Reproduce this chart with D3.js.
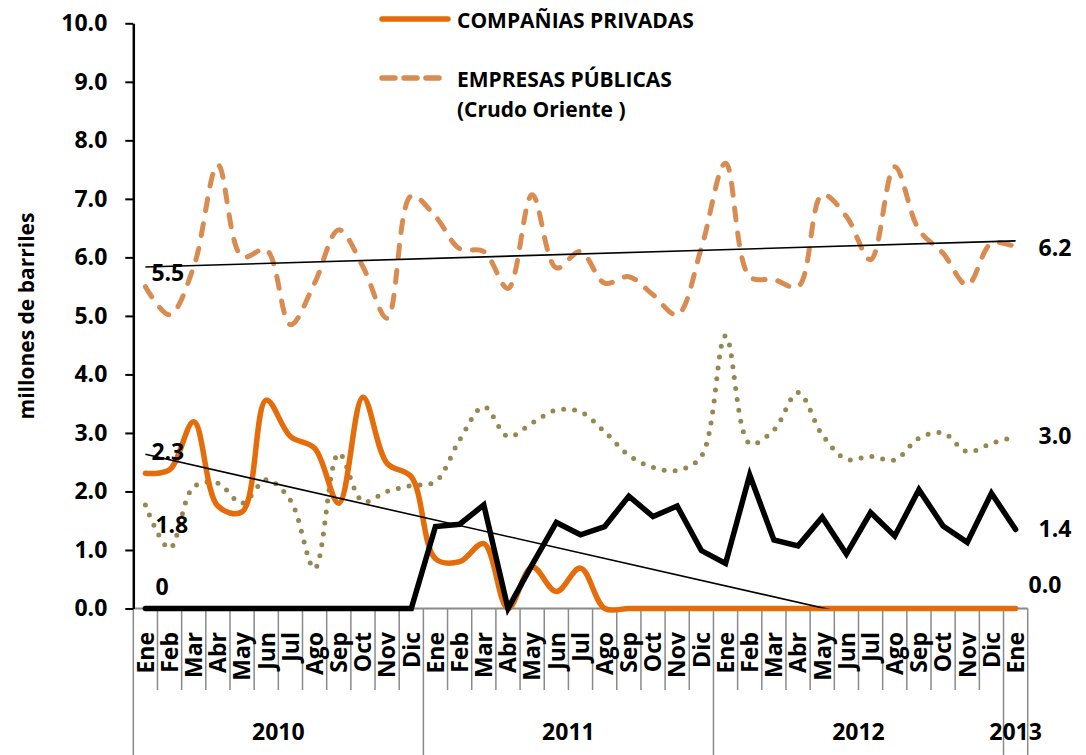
<!DOCTYPE html>
<html>
<head>
<meta charset="utf-8">
<script src="https://cdn.jsdelivr.net/npm/d3@7"></script>
<style>
  body { margin: 0; background: #fff; }
  text { font-family: "Open Sans", sans-serif; font-weight: bold; fill: #000; }
</style>
</head>
<body>
<div id="chart"></div>
<script>
// months Ene 2010 .. Ene 2013
const meses = ["Ene","Feb","Mar","Abr","May","Jun","Jul","Ago","Sep","Oct","Nov","Dic",
  "Ene","Feb","Mar","Abr","May","Jun","Jul","Ago","Sep","Oct","Nov","Dic",
  "Ene","Feb","Mar","Abr","May","Jun","Jul","Ago","Sep","Oct","Nov","Dic",
  "Ene"];
const anios = ["2010", "2011", "2012", "2013"];
const mesesPorAnio = [12, 12, 12, 1];

const privadas = [2.31,2.37,3.19,1.75,1.65,3.56,2.94,2.74,1.80,3.61,2.48,2.25,
  0.85,0.80,1.11,0,0.71,0.29,0.69,0,0,0,0,0,
  0,0,0,0,0,0,0,0,0,0,0,0,
  0];
const publicas = [5.50,5.02,5.84,7.58,6.01,6.13,4.85,5.56,6.47,5.84,4.96,7.05,
  6.70,6.15,6.10,5.47,7.07,5.82,6.10,5.56,5.67,5.36,5.02,6.16,
  7.61,5.67,5.62,5.50,7.07,6.70,5.96,7.55,6.47,6.07,5.53,6.24,
  6.18];
const punteada = [1.77,1.03,2.08,2.14,1.80,2.20,1.85,0.68,2.65,1.83,2.00,2.10,
  2.17,2.88,3.45,2.94,3.17,3.39,3.36,3.02,2.62,2.41,2.36,2.60,
  4.66,2.82,3.05,3.69,2.97,2.55,2.60,2.54,2.91,3.00,2.68,2.82,
  2.94];
const negra = [0,0,0,0,0,0,0,0,0,0,0,0,
  1.40,1.44,1.77,0,0.75,1.47,1.26,1.40,1.92,1.57,1.75,0.99,
  0.77,2.28,1.17,1.07,1.56,0.93,1.64,1.24,2.03,1.41,1.13,1.97,
  1.35];
const yTicks = [0,1,2,3,4,5,6,7,8,9,10];

const width = 1086, height = 755;
const plot = { left: 133.3, right: 1027.7, top: 23.3, bottom: 608.5 };

const svg = d3.select("#chart").append("svg")
  .attr("width", width).attr("height", height);

const x = d3.scaleBand().domain(d3.range(meses.length)).range([plot.left, plot.right]);
const xc = i => x(i) + x.bandwidth() / 2;
const y = d3.scaleLinear().domain([0, 10]).range([plot.bottom, plot.top]);

// category axis: gray line, month ticks, year separators
svg.append("line")
  .attr("x1", plot.left).attr("x2", plot.right).attr("y1", plot.bottom).attr("y2", plot.bottom)
  .attr("stroke", "#8a8a8a").attr("stroke-width", 2);

const yearStarts = [0];
mesesPorAnio.forEach((n, k) => yearStarts.push(yearStarts[k] + n));

svg.append("g").selectAll("line")
  .data(d3.range(meses.length + 1))
  .join("line")
  .attr("x1", i => i < meses.length ? x(i) : plot.right)
  .attr("x2", i => i < meses.length ? x(i) : plot.right)
  .attr("y1", plot.bottom)
  .attr("y2", i => yearStarts.includes(i) ? height : 690)
  .attr("stroke", "#8a8a8a").attr("stroke-width", 1.5);

svg.append("g").selectAll("text")
  .data(meses)
  .join("text")
  .attr("transform", (d, i) => "translate(" + xc(i) + ",632) rotate(-90)")
  .attr("dy", "0.36em")
  .attr("text-anchor", "end")
  .attr("font-size", 23)
  .text(d => d);

svg.append("g").selectAll("text")
  .data(anios)
  .join("text")
  .attr("x", (d, k) => {
    const a = x(yearStarts[k]);
    const b = yearStarts[k + 1] < meses.length ? x(yearStarts[k + 1]) : plot.right;
    return (a + b) / 2;
  })
  .attr("y", 740)
  .attr("text-anchor", "middle")
  .attr("font-size", 23)
  .text(d => d);

// value axis
const yAxis = d3.axisLeft(y)
  .tickValues(yTicks)
  .tickFormat(d3.format(".1f"))
  .tickSize(8)
  .tickSizeOuter(0)
  .tickPadding(18);

const gy = svg.append("g")
  .attr("transform", "translate(" + plot.left + ",0)")
  .call(yAxis);
gy.select(".domain").attr("stroke", "#000").attr("stroke-width", 2.5);
gy.selectAll(".tick line").attr("stroke", "#000").attr("stroke-width", 2);
gy.selectAll(".tick text")
  .attr("font-size", 23)
  .attr("font-family", "Open Sans, sans-serif")
  .attr("font-weight", "bold")
  .attr("fill", "#000");

svg.append("text")
  .attr("transform", "translate(26,316) rotate(-90)")
  .attr("dy", "0.36em")
  .attr("text-anchor", "middle")
  .attr("font-size", 21)
  .text("millones de barriles");

// series
const smooth = d3.line()
  .x((d, i) => xc(i))
  .y(d => y(d))
  .curve(d3.curveCatmullRom.alpha(0.5));
const straight = d3.line()
  .x((d, i) => xc(i))
  .y(d => y(d));

svg.append("path")
  .attr("d", smooth(punteada))
  .attr("fill", "none")
  .attr("stroke", "#978853")
  .attr("stroke-width", 5)
  .attr("stroke-linecap", "round")
  .attr("stroke-dasharray", "0 11");

svg.append("path")
  .attr("d", smooth(publicas))
  .attr("fill", "none")
  .attr("stroke", "#d98c52")
  .attr("stroke-width", 5)
  .attr("stroke-linecap", "round")
  .attr("stroke-dasharray", "12 13");

svg.append("path")
  .attr("d", smooth(privadas))
  .attr("fill", "none")
  .attr("stroke", "#e46c0a")
  .attr("stroke-width", 5.5)
  .attr("stroke-linecap", "round");

svg.append("path")
  .attr("d", straight(negra))
  .attr("fill", "none")
  .attr("stroke", "#000")
  .attr("stroke-width", 5.5)
  .attr("stroke-linecap", "round");

// linear trend lines (least squares), clipped to the plot area
svg.append("clipPath").attr("id", "plotclip")
  .append("rect")
  .attr("x", plot.left).attr("y", plot.top)
  .attr("width", plot.right - plot.left).attr("height", plot.bottom - plot.top);

function trend(vals) {
  const n = vals.length;
  const mx = d3.mean(d3.range(n)), my = d3.mean(vals);
  const sxy = d3.sum(vals, (v, i) => (i - mx) * (v - my));
  const sxx = d3.sum(d3.range(n), i => (i - mx) * (i - mx));
  const b = sxy / sxx;
  return [my - b * mx, my + b * (n - 1 - mx)];
}
[publicas, privadas].forEach(vals => {
  const t = trend(vals);
  svg.append("line")
    .attr("clip-path", "url(#plotclip)")
    .attr("x1", xc(0)).attr("y1", y(t[0]))
    .attr("x2", xc(vals.length - 1)).attr("y2", y(t[1]))
    .attr("stroke", "#000").attr("stroke-width", 1.6);
});

// data labels
const last = meses.length - 1;
const labels = [
  { t: "5.5", x: xc(0) + 6, y: y(publicas[0]) - 6 },
  { t: "2.3", x: xc(0) + 6, y: y(privadas[0]) - 13 },
  { t: "1.8", x: xc(0) + 10, y: y(punteada[0]) + 28 },
  { t: "0", x: xc(0) + 10, y: y(negra[0]) - 14 },
  { t: "6.2", x: xc(last) + 23, y: y(publicas[last]) + 9 },
  { t: "3.0", x: xc(last) + 23, y: y(punteada[last]) + 8 },
  { t: "1.4", x: xc(last) + 23, y: y(negra[last]) + 8 },
  { t: "0.0", x: xc(last) + 13, y: y(privadas[last]) - 16 }
];
svg.append("g").selectAll("text")
  .data(labels)
  .join("text")
  .attr("x", d => d.x).attr("y", d => d.y)
  .attr("font-size", 23)
  .text(d => d.t);

// legend
const lg = svg.append("g");
lg.append("line")
  .attr("x1", 382).attr("x2", 448).attr("y1", 19).attr("y2", 19)
  .attr("stroke", "#e46c0a").attr("stroke-width", 5.5).attr("stroke-linecap", "round");
lg.append("text").attr("x", 457).attr("y", 28).attr("font-size", 21)
  .text("COMPAÑIAS PRIVADAS");
lg.append("line")
  .attr("x1", 382).attr("x2", 442).attr("y1", 78).attr("y2", 78)
  .attr("stroke", "#d98c52").attr("stroke-width", 5.5).attr("stroke-linecap", "round")
  .attr("stroke-dasharray", "13 9");
lg.append("text").attr("x", 457).attr("y", 87).attr("font-size", 21)
  .text("EMPRESAS PÚBLICAS");
lg.append("text").attr("x", 457).attr("y", 117).attr("font-size", 21)
  .text("(Crudo Oriente )");
</script>
</body>
</html>
